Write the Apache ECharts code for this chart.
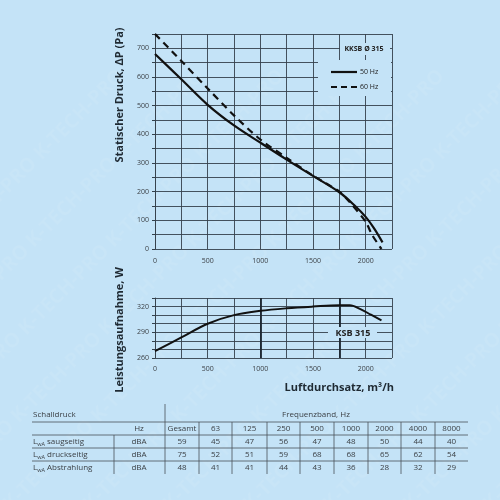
<!DOCTYPE html>
<html lang="de">
<head>
    <meta charset="UTF-8">
    <title>KKSB 315 Kennlinie</title>
    <script src="https://cdn.jsdelivr.net/npm/echarts@6/dist/echarts.min.js"></script>
    <style>
        html, body { margin: 0; padding: 0; background: #c4e3f7; }
        #chart { width: 500px; height: 500px; }
    </style>
</head>
<body>
    <div id="chart"></div>
    <script>
        // Druckkennlinie (Pa) über Luftdurchsatz (m³/h)
        const flow50 = [0, 250, 500, 750, 1000, 1250, 1500, 1750, 1900, 2000, 2080, 2160];
        const press50 = [680, 592, 503, 431, 371, 312, 255, 198, 150, 112, 72, 23];
        const flow60 = [0, 250, 500, 750, 1000, 1250, 1500, 1750, 1850, 2000, 2060, 2150];
        const press60 = [750, 656, 560, 466, 382, 318, 256, 200, 163, 95, 50, 0];

        // Leistungsaufnahme (W)
        const flowP = [0, 250, 500, 750, 1000, 1250, 1500, 1750, 1850, 1950, 2050, 2150];
        const power = [268, 284, 300, 310, 315, 318, 320, 321.5, 321.5, 317, 310.5, 304];

        // Schalldruck-Tabelle
        const bands = ['Gesamt', '63', '125', '250', '500', '1000', '2000', '4000', '8000'];
        const rowNames = ['saugseitig', 'druckseitig', 'Abstrahlung'];
        const saug = [59, 45, 47, 56, 47, 48, 50, 44, 40];
        const druck = [75, 52, 51, 59, 68, 68, 65, 62, 54];
        const abstr = [48, 41, 41, 44, 43, 36, 28, 32, 29];

        const chart = echarts.init(document.getElementById('chart'));

        const gridCol = '#34414c';
        const txtCol = '#3a3f44';
        const bg = '#c4e3f7';
        const font = '"Open Sans", sans-serif';
        const boldFont = '"Liberation Sans Narrow", "Open Sans", sans-serif';

        function pairs(xs, ys) {
            return xs.map((x, i) => [x, ys[i]]);
        }

        // wasserzeichen (sehr dezent)
        const wm = [];
        for (let i = -4; i < 9; i++) {
            wm.push({
                type: 'text', x: i * 80, y: 500, rotation: Math.PI / 4, z: 0, silent: true,
                style: {
                    text: 'K-TECH-PRO K-TECH-PRO K-TECH-PRO K-TECH-PRO K-TECH-PRO',
                    font: 'bold 20px ' + font, fill: 'rgba(255,255,255,0.07)'
                }
            });
        }

        // tabelle als graphic-elemente
        const tbl = [];
        const L = 32, R = 468;
        const colEdges = [165, 199, 232, 267, 300, 334, 368, 401, 435, 468];
        const rowY = [442, 455, 468];
        const hLines = [422, 435, 448, 461];
        const ls = { stroke: '#4a5258', lineWidth: 0.8 };
        hLines.forEach(y => tbl.push({ type: 'line', shape: { x1: L, y1: y, x2: R, y2: y }, style: ls }));
        tbl.push({ type: 'line', shape: { x1: 165, y1: 404, x2: 165, y2: 474 }, style: ls });
        tbl.push({ type: 'line', shape: { x1: 114, y1: 435, x2: 114, y2: 474 }, style: ls });
        colEdges.slice(1, -1).forEach(x => tbl.push({ type: 'line', shape: { x1: x, y1: 422, x2: x, y2: 474 }, style: ls }));

        const cellText = (x, y, t, align) => ({
            type: 'text', x: x, y: y,
            style: { text: t, fill: txtCol, font: '8px ' + font, textAlign: align || 'center', textVerticalAlign: 'middle' }
        });
        tbl.push(cellText(33, 415, 'Schalldruck', 'left'));
        tbl.push(cellText(316, 415, 'Frequenzband, Hz'));
        tbl.push(cellText(139, 429, 'Hz'));
        bands.forEach((b, i) => tbl.push(cellText((colEdges[i] + colEdges[i + 1]) / 2, 429, b)));
        [saug, druck, abstr].forEach((vals, r) => {
            tbl.push({
                type: 'text', x: 33, y: rowY[r],
                style: {
                    text: '{m|L}{s|wA}{m| ' + rowNames[r] + '}',
                    textVerticalAlign: 'middle',
                    rich: {
                        m: { font: '8px ' + font, fill: txtCol },
                        s: { font: '5.5px ' + font, fill: txtCol, padding: [4, 0, 0, 0] }
                    }
                }
            });
            tbl.push(cellText(139, rowY[r], 'dBA'));
            vals.forEach((v, i) => tbl.push(cellText((colEdges[i] + colEdges[i + 1]) / 2, rowY[r], String(v))));
        });

        const option = {
            backgroundColor: bg,
            animation: false,
            grid: [
                { left: 155, top: 34, width: 237, height: 215 },
                { left: 155, top: 298, width: 237, height: 60 }
            ],
            xAxis: [
                {
                    gridIndex: 0, type: 'value', min: 0, max: 2250, interval: 250,
                    axisLine: { show: false },
                    axisTick: { show: false },
                    splitLine: { lineStyle: { color: gridCol, width: 0.9 } },
                    axisLabel: {
                        color: txtCol, fontSize: 7, fontFamily: font, margin: 8,
                        formatter: v => (v % 500 === 0 && v < 2250 ? v : '')
                    }
                },
                {
                    gridIndex: 1, type: 'value', min: 0, max: 2250, interval: 250,
                    axisLine: { show: false },
                    axisTick: { show: false },
                    splitLine: { lineStyle: { color: gridCol, width: 0.9 } },
                    axisLabel: {
                        color: txtCol, fontSize: 7, fontFamily: font, margin: 7,
                        formatter: v => (v % 500 === 0 && v < 2250 ? v : '')
                    }
                }
            ],
            yAxis: [
                {
                    gridIndex: 0, type: 'value', min: 0, max: 750, interval: 50,
                    axisLine: { show: true, lineStyle: { color: gridCol, width: 0.9 } },
                    axisTick: { show: true, length: 3, lineStyle: { color: gridCol } },
                    splitLine: { lineStyle: { color: gridCol, width: 0.9 } },
                    axisLabel: {
                        color: txtCol, fontSize: 7, fontFamily: font, margin: 6,
                        formatter: v => (v % 100 === 0 ? v : '')
                    }
                },
                {
                    gridIndex: 1, type: 'value', min: 260, max: 330, interval: 10,
                    axisLine: { show: true, lineStyle: { color: gridCol, width: 0.9 } },
                    axisTick: { show: true, length: 3, lineStyle: { color: gridCol } },
                    splitLine: { lineStyle: { color: gridCol, width: 0.9 } },
                    axisLabel: {
                        color: txtCol, fontSize: 7, fontFamily: font, margin: 6,
                        formatter: v => ((v - 260) % 30 === 0 && v < 330 ? v : '')
                    }
                }
            ],
            series: [
                {
                    name: '50 Hz', type: 'line', xAxisIndex: 0, yAxisIndex: 0,
                    data: pairs(flow50, press50), smooth: 0.35, symbol: 'none',
                    lineStyle: { color: '#111', width: 2.2 }, z: 5
                },
                {
                    name: '60 Hz', type: 'line', xAxisIndex: 0, yAxisIndex: 0,
                    data: pairs(flow60, press60), smooth: 0.3, symbol: 'none',
                    lineStyle: { color: '#111', width: 2.2, type: [7, 5] }, z: 5
                },
                {
                    name: 'Leistung', type: 'line', xAxisIndex: 1, yAxisIndex: 1,
                    data: pairs(flowP, power), smooth: 0.35, symbol: 'none',
                    lineStyle: { color: '#111', width: 2 }, z: 5,
                    markLine: {
                        silent: true, symbol: 'none', label: { show: false },
                        lineStyle: { color: '#1c2630', width: 1.8, type: 'solid' },
                        data: [{ xAxis: 1000 }, { xAxis: 1750 }]
                    }
                }
            ],
            graphic: wm.concat([
                // legende & beschriftungen im diagramm
                { type: 'rect', shape: { x: 318, y: 60, width: 73, height: 36 }, style: { fill: bg }, z: 10 },
                { type: 'rect', shape: { x: 340, y: 43, width: 50, height: 12 }, style: { fill: bg }, z: 10 },
                { type: 'text', x: 364, y: 49, z: 11, style: { text: 'KKSB Ø 315', font: 'bold 7px ' + font, fill: '#222', textAlign: 'center', textVerticalAlign: 'middle' } },
                { type: 'line', z: 11, shape: { x1: 331, y1: 72, x2: 357, y2: 72 }, style: { stroke: '#111', lineWidth: 2.2 } },
                { type: 'line', z: 11, shape: { x1: 331, y1: 87, x2: 357, y2: 87 }, style: { stroke: '#111', lineWidth: 2.2, lineDash: [6, 4] } },
                { type: 'text', x: 360, y: 72, z: 11, style: { text: '50 Hz', font: '7px ' + font, fill: '#222', textVerticalAlign: 'middle' } },
                { type: 'text', x: 360, y: 87, z: 11, style: { text: '60 Hz', font: '7px ' + font, fill: '#222', textVerticalAlign: 'middle' } },
                { type: 'rect', shape: { x: 328, y: 327, width: 49, height: 11 }, style: { fill: bg }, z: 10 },
                { type: 'text', x: 353, y: 333, z: 11, style: { text: 'KSB 315', font: 'bold 9px ' + font, fill: '#222', textAlign: 'center', textVerticalAlign: 'middle' } },
                // achsentitel
                { type: 'text', x: 120, y: 95, rotation: Math.PI / 2, z: 11, style: { text: 'Statischer Druck, ΔP (Pa)', font: 'bold 11px ' + boldFont, fill: '#1f2a33', textAlign: 'center', textVerticalAlign: 'middle' } },
                { type: 'text', x: 120, y: 330, rotation: Math.PI / 2, z: 11, style: { text: 'Leistungsaufnahme, W', font: 'bold 11px ' + boldFont, fill: '#1f2a33', textAlign: 'center', textVerticalAlign: 'middle' } },
                { type: 'text', x: 394, y: 388, z: 11, style: { text: 'Luftdurchsatz, m³/h', font: 'bold 11px ' + boldFont, fill: '#1f2a33', textAlign: 'right', textVerticalAlign: 'middle' } }
            ]).concat(tbl)
        };

        chart.setOption(option);
    </script>
</body>
</html>
